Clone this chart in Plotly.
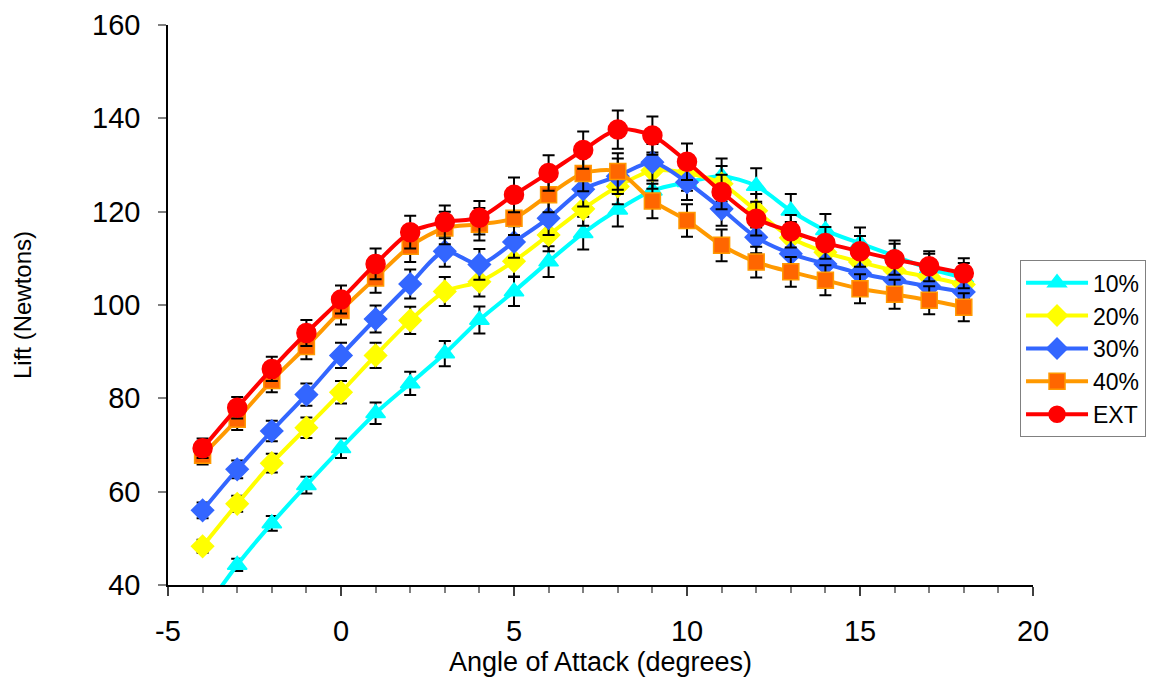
import plotly.graph_objects as go

angles = list(range(-4, 19))

lift_10 = [34.0, 44.3, 53.2, 61.4, 69.3, 76.8, 83.2, 89.6, 96.8, 102.9, 109.3, 115.4, 120.4,
           124.5, 126.3, 127.6, 125.5, 120.2, 116.0, 113.2, 110.5, 107.8, 105.8]
err_10 = [1.0, 1.3, 1.6, 1.8, 2.1, 2.3, 2.5, 2.7, 2.9, 3.1, 3.3, 3.5, 3.6, 3.7, 3.8, 3.8,
          3.8, 3.6, 3.5, 3.4, 3.3, 3.2, 3.2]

lift_20 = [48.3, 57.4, 66.1, 73.7, 81.3, 89.2, 96.7, 102.9, 105.0, 109.4, 115.0, 120.6, 125.4,
           128.8, 128.3, 126.0, 120.2, 114.4, 111.3, 109.2, 107.4, 106.0, 104.4]
err_20 = [1.4, 1.7, 2.0, 2.2, 2.4, 2.7, 2.9, 3.1, 3.2, 3.3, 3.5, 3.6, 3.8, 3.9, 3.8, 3.8,
          3.6, 3.4, 3.3, 3.3, 3.2, 3.2, 3.1]

lift_30 = [56.0, 64.8, 73.0, 80.8, 89.2, 97.0, 104.5, 111.5, 108.7, 113.5, 118.6, 124.8, 127.6,
           130.6, 126.3, 120.6, 114.5, 111.0, 108.8, 106.8, 105.3, 104.0, 102.8]
err_30 = [1.7, 1.9, 2.2, 2.4, 2.7, 2.9, 3.1, 3.3, 3.3, 3.4, 3.6, 3.7, 3.8, 3.9, 3.8, 3.6,
          3.4, 3.3, 3.3, 3.2, 3.2, 3.1, 3.1]

lift_40 = [67.8, 75.5, 83.8, 91.1, 98.8, 105.8, 112.6, 116.5, 117.3, 118.6, 123.6, 128.2, 128.6,
           122.3, 118.1, 112.8, 109.2, 107.1, 105.3, 103.5, 102.3, 101.0, 99.5]
err_40 = [2.0, 2.3, 2.5, 2.7, 3.0, 3.2, 3.4, 3.5, 3.5, 3.6, 3.7, 3.8, 3.9, 3.7, 3.5, 3.4,
          3.3, 3.2, 3.2, 3.1, 3.1, 3.0, 3.0]

lift_ext = [69.3, 78.0, 86.3, 94.0, 101.2, 108.8, 115.6, 117.8, 118.7, 123.6, 128.3, 133.2, 137.6,
            136.3, 130.7, 124.2, 118.5, 115.8, 113.3, 111.5, 109.8, 108.3, 106.8]
err_ext = [2.1, 2.3, 2.6, 2.8, 3.0, 3.3, 3.5, 3.5, 3.6, 3.7, 3.8, 4.0, 4.1, 4.1, 3.9, 3.7,
           3.6, 3.5, 3.4, 3.3, 3.3, 3.2, 3.2]

series_names = ["10%", "20%", "30%", "40%", "EXT"]
x_tick_vals = [-5, 0, 5, 10, 15, 20]
x_tick_text = ["-5", "0", "5", "10", "15", "20"]
y_tick_vals = [40, 60, 80, 100, 120, 140, 160]
y_tick_text = ["40", "60", "80", "100", "120", "140", "160"]

FONT = "Liberation Sans, Arial, sans-serif"

styles = [
    dict(line="#00FFFF", fill="#00FFFF", edge="#00FFFF", symbol="triangle-up", size=17),
    dict(line="#FFFF00", fill="#FFFF00", edge="#FFFF00", symbol="diamond", size=17),
    dict(line="#3366FF", fill="#3366FF", edge="#3366FF", symbol="diamond", size=17),
    dict(line="#FF9900", fill="#FF6600", edge="#FF9900", symbol="square", size=16),
    dict(line="#FF0000", fill="#FF0000", edge="#FF0000", symbol="circle", size=19),
]
data = [(lift_10, err_10), (lift_20, err_20), (lift_30, err_30), (lift_40, err_40), (lift_ext, err_ext)]

fig = go.Figure()
for name, (vals, errs), st in zip(series_names, data, styles):
    fig.add_trace(go.Scatter(
        x=angles, y=vals, name=name, mode="lines+markers",
        line=dict(color=st["line"], width=4, shape="spline", smoothing=0.8),
        marker=dict(symbol=st["symbol"], size=st["size"], color=st["fill"],
                    line=dict(color=st["edge"], width=1.5)),
        error_y=dict(type="data", array=errs, visible=True, color="black",
                     thickness=2, width=6),
    ))

fig.update_layout(
    width=1154, height=684,
    paper_bgcolor="white", plot_bgcolor="white",
    margin=dict(l=168, r=121, t=25, b=99, autoexpand=False),
    font=dict(family=FONT, color="black"),
    showlegend=True,
    legend=dict(
        x=0.985, y=0.58, xanchor="left", yanchor="top",
        bordercolor="#808080", borderwidth=1, bgcolor="white",
        font=dict(family=FONT, size=23, color="black"),
        tracegroupgap=0, itemwidth=62,
    ),
    xaxis=dict(
        range=[-5, 20], tickvals=x_tick_vals, ticktext=x_tick_text,
        showgrid=False, zeroline=False,
        showline=True, linecolor="black", linewidth=1.5,
        ticks="outside", ticklen=9, tickcolor="#404040", tickwidth=1.5,
        tickfont=dict(family=FONT, size=29), ticklabelstandoff=10,
        minor=dict(dtick=1, tick0=-5, ticks="outside", ticklen=6, tickcolor="#808080",
                   tickwidth=1.5, showgrid=False),
        title=dict(text="Angle of Attack (degrees)", font=dict(family=FONT, size=27), standoff=4),
    ),
    yaxis=dict(
        range=[40, 160], tickvals=y_tick_vals, ticktext=y_tick_text,
        showgrid=False, zeroline=False,
        showline=True, linecolor="black", linewidth=1.5,
        ticks="outside", ticklen=8, tickcolor="#808080", tickwidth=1.5,
        tickfont=dict(family=FONT, size=29), ticklabelstandoff=12,
        title=dict(text="Lift (Newtons)", font=dict(family=FONT, size=24), standoff=54),
    ),
)

fig.write_html("out.html")
